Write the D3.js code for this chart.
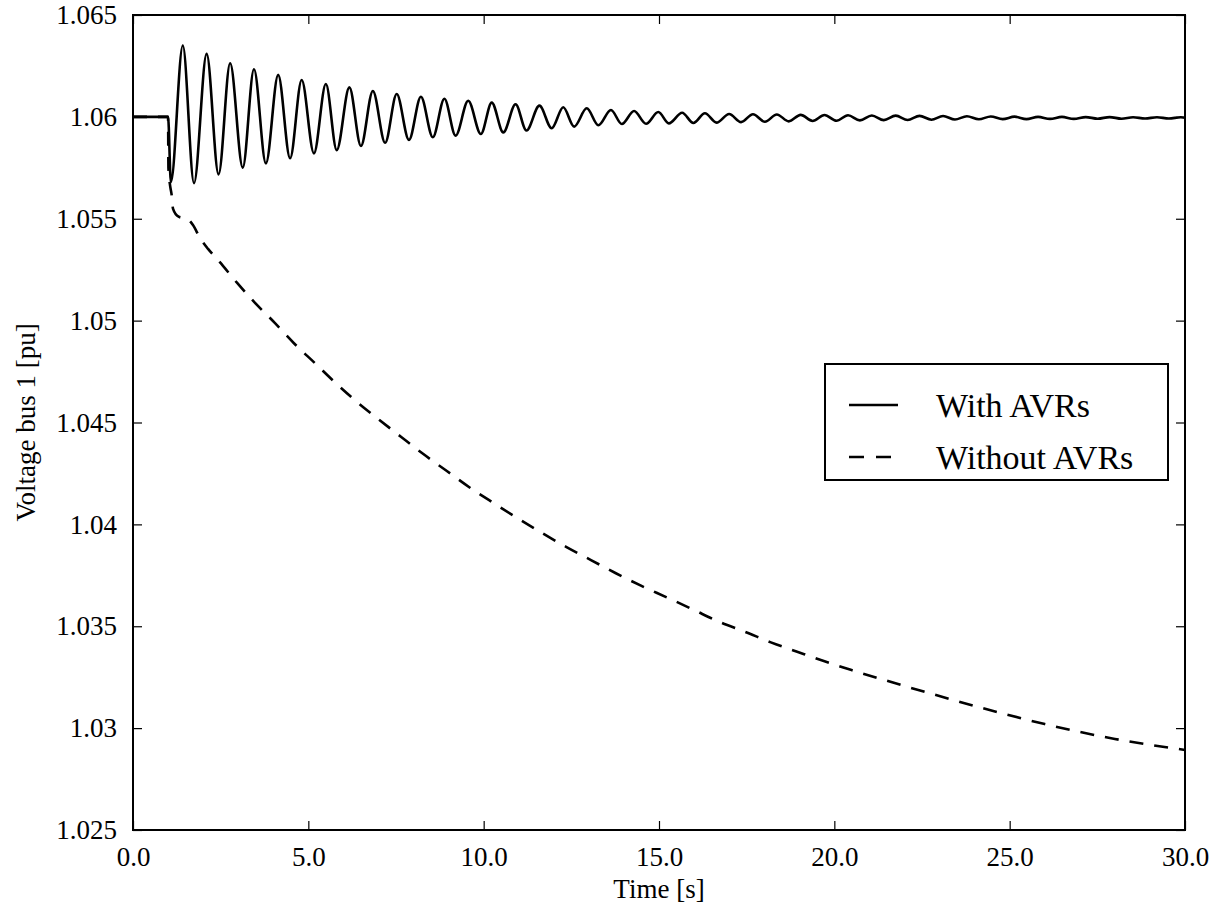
<!DOCTYPE html>
<html>
<head>
<meta charset="utf-8">
<script src="https://cdn.jsdelivr.net/npm/d3@7"></script>
<style>
  body { margin: 0; background: #fff; }
  text { fill: #000; }
</style>
</head>
<body>
<script>
const width = 1213;
const height = 912;
const margins = { top: 15, right: 28, bottom: 82, left: 133 };
const fontFamily = "'Liberation Serif', 'Times New Roman', 'DejaVu Serif', serif";

// extrema of the voltage with AVRs (time [s], voltage [pu])
const peakTimes = [1.42, 2.10, 2.77, 3.45, 4.14, 4.81, 5.50, 6.17, 6.84, 7.52, 8.21, 8.88, 9.56, 10.23, 10.91, 11.59, 12.27, 12.94, 13.63, 14.29, 14.98, 15.66, 16.31, 17.00, 17.68, 18.36, 19.04, 19.72, 20.39, 21.07, 21.75, 22.43, 23.10, 23.78, 24.46, 25.14, 25.81, 26.49, 27.17, 27.85, 28.52, 29.20, 29.88];
const peakValues = [1.0635, 1.06309, 1.06263, 1.06234, 1.06206, 1.06181, 1.06161, 1.06145, 1.06127, 1.06112, 1.06099, 1.06089, 1.06079, 1.0607, 1.06062, 1.06055, 1.06047, 1.06042, 1.06034, 1.06029, 1.06024, 1.0602, 1.06018, 1.06014, 1.06013, 1.06012, 1.0601, 1.06009, 1.06008, 1.06007, 1.06006, 1.06005, 1.06004, 1.06003, 1.06002, 1.06001, 1.06, 1.06, 1.05999, 1.05999, 1.05998, 1.05998, 1.05998];
const troughTimes = [1.08, 1.74, 2.44, 3.13, 3.79, 4.48, 5.16, 5.81, 6.50, 7.19, 7.87, 8.55, 9.20, 9.92, 10.56, 11.22, 11.94, 12.58, 13.27, 13.94, 14.63, 15.28, 15.98, 16.64, 17.34, 18.02, 18.70, 19.38, 20.06, 20.73, 21.41, 22.09, 22.77, 23.44, 24.12, 24.80, 25.48, 26.15, 26.83, 27.51, 28.19, 28.86, 29.54];
const troughValues = [1.0568, 1.05675, 1.05718, 1.05751, 1.05772, 1.05797, 1.05821, 1.05837, 1.05857, 1.05873, 1.05887, 1.059, 1.05908, 1.05916, 1.05924, 1.05933, 1.05944, 1.05952, 1.05959, 1.05965, 1.05966, 1.05968, 1.0597, 1.05972, 1.05974, 1.05976, 1.05978, 1.0598, 1.05981, 1.05983, 1.05984, 1.05985, 1.05986, 1.05987, 1.05988, 1.05989, 1.05989, 1.0599, 1.0599, 1.05991, 1.05991, 1.05992, 1.05992];
const steadyTimes = [0, 1.0, 30];
const steadyValues = [1.06, 1.06, 1.05996];

// voltage without AVRs
const noAvrTimes = [0, 1.0, 1.01, 1.06, 1.10, 1.14, 1.30, 1.43, 1.54, 1.71, 1.91, 2.14, 2.42, 2.97, 3.48, 4.05, 4.59, 5.19, 5.79, 6.38, 7.00, 7.64, 8.28, 8.95, 9.61, 10.27, 11.65, 12.35, 13.06, 13.77, 14.5, 15.22, 15.96, 16.71, 17.45, 18.19, 18.94, 19.70, 20.49, 22, 24, 26, 28, 30];
const noAvrValues = [1.06, 1.06, 1.0575, 1.0566, 1.0562, 1.0555, 1.0551, 1.05504, 1.0550, 1.05469, 1.05406, 1.05352, 1.05298, 1.05185, 1.05087, 1.04988, 1.04889, 1.04791, 1.04692, 1.04602, 1.04516, 1.0443, 1.04345, 1.04262, 1.0418, 1.04106, 1.03959, 1.0389, 1.03825, 1.0376, 1.03698, 1.03642, 1.03583, 1.03522, 1.03473, 1.03421, 1.03375, 1.03329, 1.03285, 1.03207, 1.03109, 1.0302, 1.02947, 1.02893];

const xTickValues = [0, 5, 10, 15, 20, 25, 30];
const xTickLabels = ["0.0", "5.0", "10.0", "15.0", "20.0", "25.0", "30.0"];
const yTickValues = [1.025, 1.03, 1.035, 1.04, 1.045, 1.05, 1.055, 1.06, 1.065];
const yTickLabels = ["1.025", "1.03", "1.035", "1.04", "1.045", "1.05", "1.055", "1.06", "1.065"];

const seriesNames = ["With AVRs", "Without AVRs"];

const withAvr = d3.sort(
  [
    ...steadyTimes.map((t, i) => [t, steadyValues[i]]),
    ...peakTimes.map((t, i) => [t, peakValues[i]]),
    ...troughTimes.map((t, i) => [t, troughValues[i]]),
  ],
  (d) => d[0]
);
const withoutAvr = noAvrTimes.map((t, i) => [t, noAvrValues[i]]);

const x = d3
  .scaleLinear()
  .domain([0, 30])
  .range([margins.left, width - margins.right]);
const y = d3
  .scaleLinear()
  .domain([1.025, 1.065])
  .range([height - margins.bottom, margins.top]);

const svg = d3
  .select("body")
  .append("svg")
  .attr("width", width)
  .attr("height", height)
  .style("font-family", fontFamily);

const line = d3
  .line()
  .x((d) => x(d[0]))
  .y((d) => y(d[1]))
  .curve(d3.curveMonotoneX);

svg
  .append("path")
  .datum(withoutAvr)
  .attr("fill", "none")
  .attr("stroke", "#000")
  .attr("stroke-width", 2.6)
  .attr("stroke-dasharray", "14,11")
  .attr("d", line);

svg
  .append("path")
  .datum(withAvr)
  .attr("fill", "none")
  .attr("stroke", "#000")
  .attr("stroke-width", 2.6)
  .attr("d", line);

// axes, ticks pointing inward on every side
const tickLen = 9;
const axisB = svg
  .append("g")
  .attr("transform", `translate(0,${y(1.025)})`)
  .call(
    d3.axisBottom(x)
      .tickValues(xTickValues)
      .tickFormat((d, i) => xTickLabels[i])
      .tickSizeInner(-tickLen)
      .tickSizeOuter(0)
      .tickPadding(17)
  );
const axisL = svg
  .append("g")
  .attr("transform", `translate(${x(0)},0)`)
  .call(
    d3.axisLeft(y)
      .tickValues(yTickValues)
      .tickFormat((d, i) => yTickLabels[i])
      .tickSizeInner(-tickLen)
      .tickSizeOuter(0)
      .tickPadding(16)
  );
const axisT = svg
  .append("g")
  .attr("transform", `translate(0,${y(1.065)})`)
  .call(d3.axisTop(x).tickValues(xTickValues).tickFormat("").tickSizeInner(-tickLen).tickSizeOuter(0));
const axisR = svg
  .append("g")
  .attr("transform", `translate(${x(30)},0)`)
  .call(d3.axisRight(y).tickValues(yTickValues).tickFormat("").tickSizeInner(-tickLen).tickSizeOuter(0));

[axisB, axisL, axisT, axisR].forEach((g) => {
  g.attr("font-family", null);
  g.select(".domain").remove();
  g.selectAll(".tick line").attr("stroke", "#000").attr("stroke-width", 1.2);
  g.selectAll(".tick text")
    .style("font-family", fontFamily)
    .attr("font-size", 27)
    .attr("fill", "#000");
});

svg
  .append("rect")
  .attr("x", x(0))
  .attr("y", y(1.065))
  .attr("width", x(30) - x(0))
  .attr("height", y(1.025) - y(1.065))
  .attr("fill", "none")
  .attr("stroke", "#000")
  .attr("stroke-width", 2);

svg
  .append("text")
  .style("font-family", fontFamily)
  .attr("x", (x(0) + x(30)) / 2)
  .attr("y", 898)
  .attr("text-anchor", "middle")
  .attr("font-size", 27)
  .text("Time [s]");

svg
  .append("text")
  .style("font-family", fontFamily)
  .attr("transform", `translate(35,${(y(1.025) + y(1.065)) / 2}) rotate(-90)`)
  .attr("text-anchor", "middle")
  .attr("font-size", 27)
  .text("Voltage bus 1 [pu]");

// legend
const legend = svg.append("g").attr("transform", "translate(825,364)");
legend
  .append("rect")
  .attr("width", 343)
  .attr("height", 116)
  .attr("fill", "#fff")
  .attr("stroke", "#000")
  .attr("stroke-width", 2);

const item = legend
  .selectAll("g.item")
  .data(seriesNames)
  .join("g")
  .attr("class", "item")
  .attr("transform", (d, i) => `translate(0,${41 + i * 52})`);

item
  .append("line")
  .attr("x1", 24)
  .attr("x2", 73)
  .attr("stroke", "#000")
  .attr("stroke-width", 2.6)
  .attr("stroke-dasharray", (d, i) => (i === 1 ? "15,12" : null));

item
  .append("text")
  .style("font-family", fontFamily)
  .attr("x", 111)
  .attr("y", 12)
  .attr("font-size", 34)
  .text((d) => d);
</script>
</body>
</html>
